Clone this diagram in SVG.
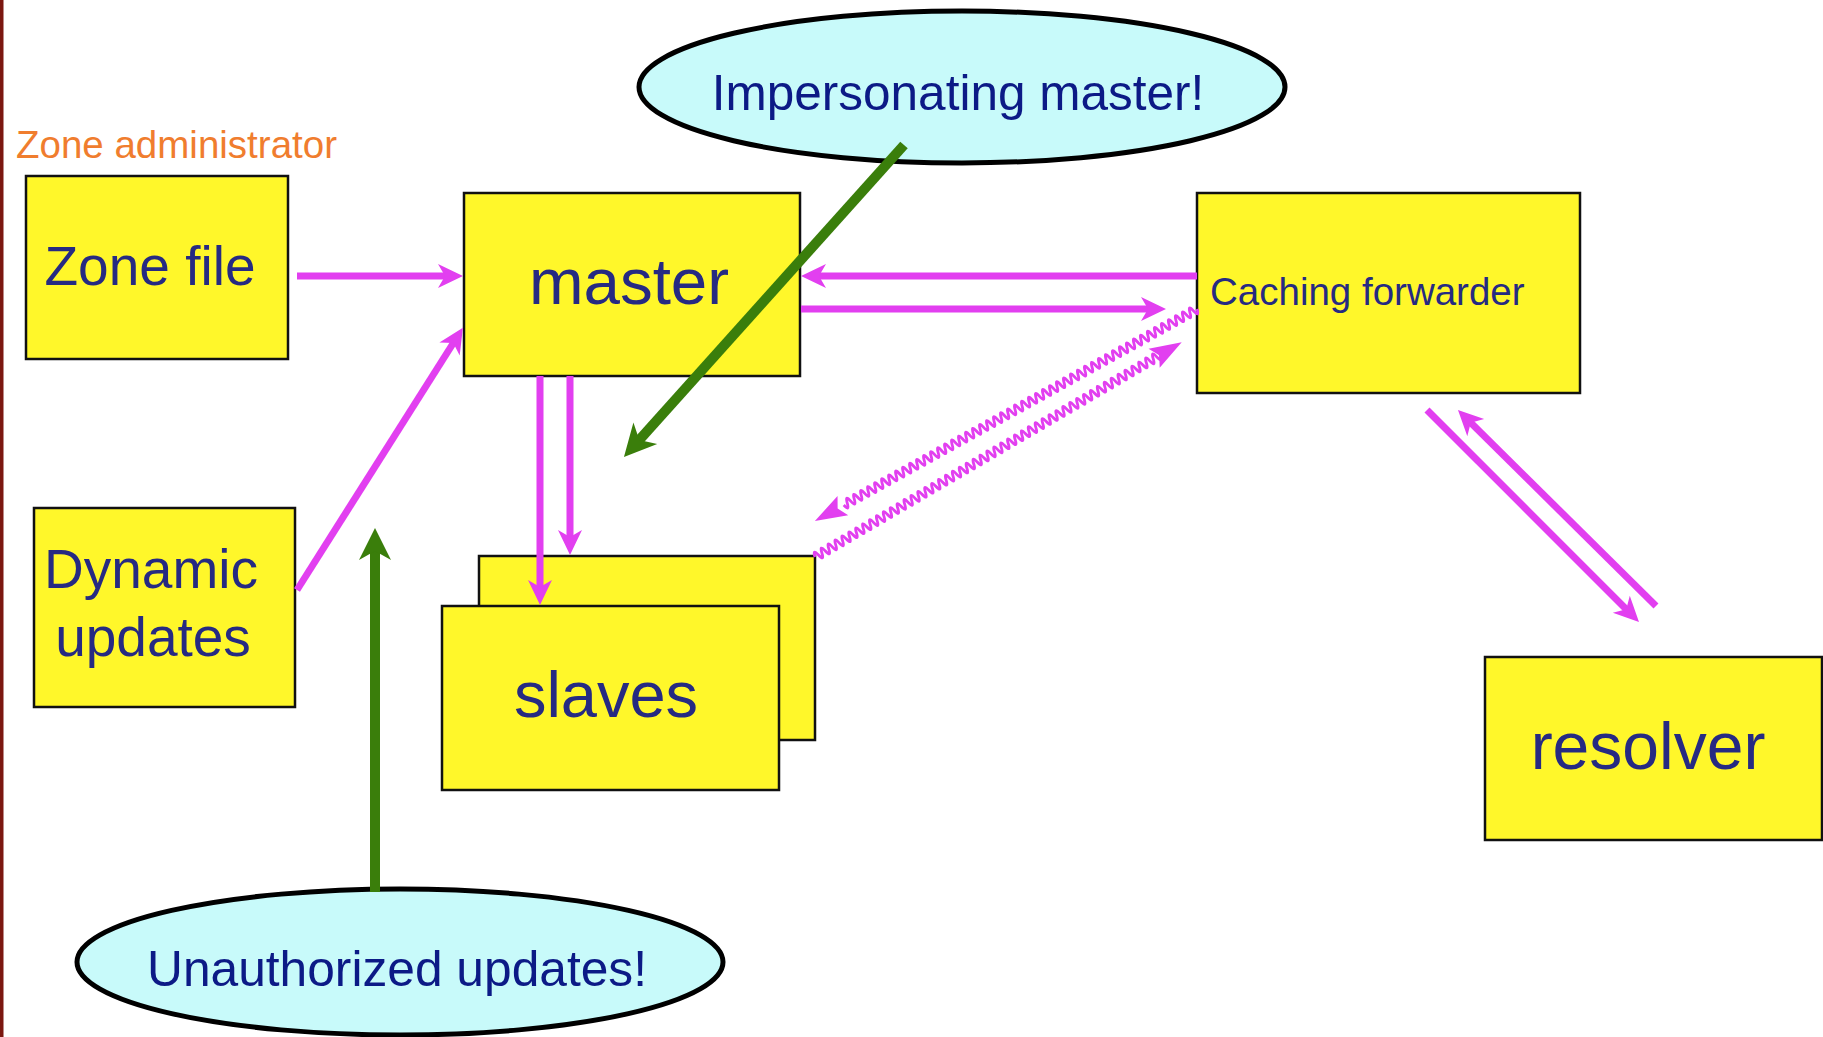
<svg xmlns="http://www.w3.org/2000/svg" xmlns:xlink="http://www.w3.org/1999/xlink" width="1823" height="1037" viewBox="0 0 1823 1037">
<style>
.box{fill:#fff72a;stroke:#111;stroke-width:2.5}
.ell{fill:#c8fafa;stroke:#000;stroke-width:5}
.lbl{font-family:"Liberation Sans",Arial,sans-serif;fill:#262a82}
.elbl{font-family:"Liberation Sans",Arial,sans-serif;fill:#0c1a86}
.mag{stroke:#e23ff0;stroke-width:7;fill:none;marker-end:url(#mh)}
.grn{stroke:#3a7e0b;stroke-width:10;fill:none;marker-end:url(#gh)}
.wave{stroke:#e23ff0;stroke-width:2.8;fill:none}
.whead{fill:#e23ff0}
</style>
<defs>
<marker id="mh" markerUnits="userSpaceOnUse" viewBox="-14 -14 28 28" refX="0" refY="0" markerWidth="28" markerHeight="28" orient="auto" overflow="visible">
<path d="M12,0 L-13,-12 L-6,0 L-13,12 Z" fill="#e23ff0"/>
</marker>
<marker id="gh" markerUnits="userSpaceOnUse" viewBox="-20 -18 40 36" refX="0" refY="0" markerWidth="40" markerHeight="36" orient="auto" overflow="visible">
<path d="M14,0 L-18,-16 L-9,0 L-18,16 Z" fill="#3a7e0b"/>
</marker>
<path id="wv" d="M0,0 q2,-9 4,0 t4,0t4,0t4,0t4,0t4,0t4,0t4,0t4,0t4,0t4,0 t4,0t4,0t4,0t4,0t4,0t4,0t4,0t4,0t4,0t4,0 t4,0t4,0t4,0t4,0t4,0t4,0t4,0t4,0t4,0t4,0 t4,0t4,0t4,0t4,0t4,0t4,0t4,0t4,0t4,0t4,0 t4,0t4,0t4,0t4,0t4,0t4,0t4,0t4,0t4,0t4,0 t4,0t4,0t4,0t4,0t4,0t4,0t4,0t4,0t4,0t4,0 t4,0t4,0t4,0t4,0t4,0t4,0t4,0t4,0t4,0t4,0 t4,0t4,0t4,0t4,0t4,0t4,0t4,0t4,0t4,0t4,0 t4,0t4,0t4,0t4,0t4,0t4,0t4,0t4,0t4,0t4,0 t4,0t4,0t4,0t4,0t4,0t4,0t4,0t4,0t4,0t4,0"/>
</defs>
<rect x="0" y="0" width="1823" height="1037" fill="#fff"/>
<rect x="0" y="0" width="3.5" height="1037" fill="#7b1710"/>

<text x="16" y="158" font-family="Liberation Sans, Arial, sans-serif" font-size="38.5" fill="#f07d2e">Zone administrator</text>

<g id="zonefile">
<rect class="box" x="26" y="176" width="262" height="183"/>
<text class="lbl" x="150" y="285" font-size="55" text-anchor="middle">Zone file</text>
</g>
<g id="master">
<rect class="box" x="464" y="193" width="336" height="183"/>
<text class="lbl" x="629" y="304" font-size="65.5" text-anchor="middle">master</text>
</g>
<g id="caching">
<rect class="box" x="1197" y="193" width="383" height="200"/>
<text class="lbl" x="1210" y="305" font-size="38.5">Caching forwarder</text>
</g>
<g id="dynamic">
<rect class="box" x="34" y="508" width="261" height="199"/>
<text class="lbl" x="151" y="588" font-size="55" text-anchor="middle">Dynamic</text>
<text class="lbl" x="153" y="656" font-size="55" text-anchor="middle">updates</text>
</g>
<g id="slaves">
<rect class="box" x="479" y="556" width="336" height="184"/>
<rect class="box" x="442" y="606" width="337" height="184"/>
<text class="lbl" x="606" y="717" font-size="65" text-anchor="middle">slaves</text>
</g>
<g id="resolver">
<rect class="box" x="1485" y="657" width="337" height="183"/>
<text class="lbl" x="1648" y="769" font-size="66" text-anchor="middle">resolver</text>
</g>
<g id="impersonating">
<ellipse class="ell" cx="962" cy="87" rx="323" ry="76"/>
<text class="elbl" x="958" y="110" font-size="49.5" text-anchor="middle">Impersonating master!</text>
</g>
<g id="unauthorized">
<ellipse class="ell" cx="400" cy="962" rx="323" ry="73"/>
<text class="elbl" x="397" y="986" font-size="49.7" text-anchor="middle">Unauthorized updates!</text>
</g>

<g id="connectors">
<line class="mag" x1="297" y1="276" x2="451" y2="276"/>
<line class="mag" x1="1197" y1="276" x2="813" y2="276"/>
<line class="mag" x1="801" y1="309" x2="1154" y2="309"/>
<line class="mag" x1="297" y1="590" x2="456.5" y2="338"/>
<line class="mag" x1="540" y1="376" x2="540" y2="593"/>
<line class="mag" x1="570" y1="376" x2="570" y2="543"/>
<line class="mag" x1="1427" y1="410" x2="1630.5" y2="613.5"/>
<line class="mag" x1="1656" y1="606" x2="1466.5" y2="418.5"/>
<g transform="translate(1197,309) rotate(150.97)">
<use xlink:href="#wv" class="wave"/>
<polygon class="whead" points="437,0 405,-11 411,0 405,11"/>
</g>
<g transform="translate(815,557) rotate(-30.36)">
<use xlink:href="#wv" class="wave"/>
<polygon class="whead" points="425,0 393,-11 399,0 393,11"/>
</g>
<line class="grn" x1="904" y1="145" x2="633.3" y2="446.6"/>
<line class="grn" x1="375" y1="892" x2="375" y2="542"/>
</g>
</svg>
